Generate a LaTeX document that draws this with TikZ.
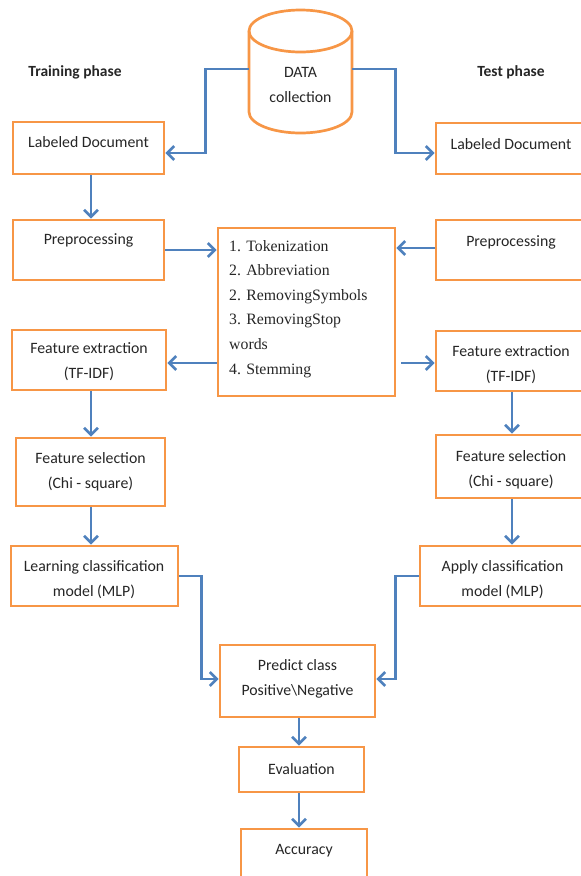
\documentclass[tikz,border=0pt]{standalone}
\usepackage{fontspec}
\setmainfont{Carlito}
\newfontfamily\serifnum{Liberation Serif}
\usetikzlibrary{arrows.meta,calc}
\definecolor{boxorange}{HTML}{F79646}
\definecolor{lineblue}{HTML}{4F81BD}
\begin{document}
\begin{tikzpicture}[x=1pt,y=-1pt,
  box/.style={draw=boxorange,line width=2.7pt,fill=white,inner sep=0pt},
  lbl/.style={font=\fontsize{15.8}{25}\selectfont,align=center,inner sep=0pt,text=black!85},
  title/.style={font=\fontsize{15.5}{19}\selectfont\bfseries,inner sep=0pt,text=black!85},
  conn/.style={draw=lineblue,line width=2.9pt,-{Straight Barb[length=7pt,width=14pt,line width=2.6pt]}}]
\useasboundingbox (0,0) rectangle (581,876);
\clip (0,0) rectangle (581,876);

% cylinder
\node[inner sep=0pt,minimum width=103pt,minimum height=123pt] (data) at (300.5,71.5) {};
\filldraw[draw=boxorange,fill=white,line width=2.7pt]
  (249,31) -- (249,112) arc[start angle=180,end angle=360,x radius=51.5pt,y radius=21pt]
  -- (352,31) arc[start angle=0,end angle=180,x radius=51.5pt,y radius=21pt] -- cycle;
\draw[boxorange,line width=2.7pt] (249,31) arc[start angle=180,end angle=360,x radius=51.5pt,y radius=21pt];
\node[lbl] (datat) at (300.5,85) {DATA\\collection};

% titles
\node[title] (trt) at (75,72) {Training phase};
\node[title] (tet) at (511,72) {Test phase};

% boxes
\node[box,minimum width=151pt,minimum height=52pt] (ldL) at (88.5,148) {};
\node[lbl] (ldLt) at (88.5,142) {Labeled Document};
\node[box,minimum width=150pt,minimum height=51pt] (ldR) at (511,148.5) {};
\node[lbl] (ldRt) at (511,144) {Labeled Document};

\node[box,minimum width=151pt,minimum height=60pt] (ppL) at (88.5,250) {};
\node[lbl] (ppLt) at (88.5,240) {Preprocessing};
\node[box,minimum width=150pt,minimum height=60pt] (ppR) at (511,250) {};
\node[lbl] (ppRt) at (511,242) {Preprocessing};

\node[box,minimum width=177pt,minimum height=168pt] (cen) at (306.5,312) {};
\node[anchor=north west,inner sep=0pt,align=left,text=black!85,
  font=\serifnum\fontsize{15.8}{24.6}\selectfont] (cent) at (229,240)
  {1. Tokenization\\2. Abbreviation\\2. RemovingSymbols\\3. RemovingStop\\words\\4. Stemming};

\node[box,minimum width=154pt,minimum height=60pt] (feL) at (89,360) {};
\node[lbl] (feLt) at (89,362) {Feature extraction\\(TF-IDF)};
\node[box,minimum width=150pt,minimum height=60pt] (feR) at (511,361) {};
\node[lbl] (feRt) at (511,364.5) {Feature extraction\\(TF-IDF)};

\node[box,minimum width=149pt,minimum height=68pt] (fsL) at (90.5,472) {};
\node[lbl] (fsLt) at (90.5,472) {Feature selection\\(Chi - square)};
\node[box,minimum width=150pt,minimum height=63pt] (fsR) at (511,466.5) {};
\node[lbl] (fsRt) at (511,469.5) {Feature selection\\(Chi - square)};

\node[box,minimum width=167pt,minimum height=60pt] (lcL) at (94.5,576) {};
\node[lbl] (lcLt) at (94,580) {Learning classification\\model (MLP)};
\node[box,minimum width=166pt,minimum height=60pt] (acR) at (503,576) {};
\node[lbl] (acRt) at (502.5,579.5) {Apply classification\\model (MLP)};

\node[box,minimum width=155pt,minimum height=72pt] (pred) at (297.5,681) {};
\node[lbl] (predt) at (297.5,678.5) {Predict class\\Positive\textbackslash Negative};
\node[box,minimum width=125pt,minimum height=45pt] (eval) at (301.5,769.5) {};
\node[lbl] (evalt) at (301.5,769) {Evaluation};
\node[box,minimum width=126pt,minimum height=51pt] (acc) at (304,854.5) {};
\node[lbl] (acct) at (304,851) {Accuracy};

% connectors
\draw[conn] ([yshift=2.5pt]data.west) -- ++(-43,0) |- ([yshift=-5pt]ldL.east);
\draw[conn] ([yshift=2.5pt]data.east) -- ++(43,0) |- ([yshift=-4.5pt]ldR.west);
\draw[conn] ([xshift=2.5pt]ldL.south) -- ([xshift=2.5pt]ldL.south |- ppL.north);
\draw[conn] (ppL.east) -- (ppL.east -| cen.west);
\draw[conn] ([yshift=2pt]ppR.west) -- ([yshift=2pt]ppR.west -| cen.east);
\draw[conn] ([yshift=-3pt]feL.east -| cen.west) -- ([yshift=-3pt]feL.east);
\draw[conn] ([xshift=5pt,yshift=-2pt]feR.west -| cen.east) -- ([yshift=-2pt]feR.west);
\draw[conn] ([xshift=2pt]feL.south) -- ([xshift=2pt]feL.south |- fsL.north);
\draw[conn] ([xshift=0.5pt]fsL.south) -- ([xshift=0.5pt]fsL.south |- lcL.north);
\draw[conn] ([xshift=1pt]feR.south) -- ([xshift=1pt]feR.south |- fsR.north);
\draw[conn] ([xshift=1pt]fsR.south) -- ([xshift=1pt]fsR.south |- acR.north);
\draw[conn] (lcL.east) -- ++(22,0) |- ([yshift=2pt]pred.west);
\draw[conn] (acR.west) -- ++(-23,0) |- ([yshift=2pt]pred.east);
\draw[conn] ([xshift=1.5pt]pred.south) -- ([xshift=1.5pt]pred.south |- eval.north);
\draw[conn] ([xshift=-2.5pt]eval.south) -- ([xshift=-2.5pt]eval.south |- acc.north);
\end{tikzpicture}
\end{document}
